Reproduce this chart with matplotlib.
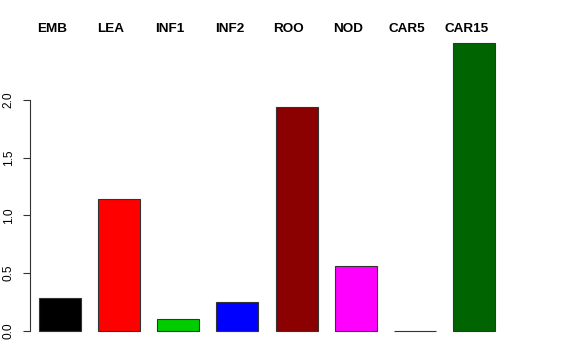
import matplotlib
matplotlib.use("Agg")
import matplotlib.pyplot as plt
import numpy as np

categories = ["EMB", "LEA", "INF1", "INF2", "ROO", "NOD", "CAR5", "CAR15"]
values = [0.286, 1.143, 0.104, 0.25, 1.94, 0.563, 0.003, 2.49]
colors = ["#000000", "#FF0000", "#00CD00", "#0000FF", "#8B0000", "#FF00FF", "#FFFFFF", "#006400"]
yticks = [0.0, 0.5, 1.0, 1.5, 2.0]
ytick_labels = ["0.0", "0.5", "1.0", "1.5", "2.0"]

plt.rcParams['font.family'] = ['Liberation Sans', 'DejaVu Sans']

W, H = 576, 360
fig = plt.figure(figsize=(W / 100, H / 100), dpi=100)
# axes in pixels: left 30, right 504, bottom y=331, top y=43
ax = fig.add_axes([30 / W, (H - 331) / H, (504 - 30) / W, (331 - 43) / H])

x = np.arange(len(categories))
ax.bar(x, values, width=0.71, color=colors, edgecolor="#333333", linewidth=0.8, clip_on=False)
ax.set_xlim(-0.5, 7.5)
ax.set_ylim(0, 2.49)

for s in ["top", "right", "bottom"]:
    ax.spines[s].set_visible(False)
ax.spines["left"].set_bounds(0, 2.0)
ax.spines["left"].set_color("#333333")
ax.set_xticks([])
ax.set_yticks(yticks)
ax.set_yticklabels(ytick_labels, rotation=90, va="center", fontsize=8.6)
ax.tick_params(axis="y", length=5, width=0.8, color="#333333", pad=6)

# category labels at top (slightly left of bar centers)
trans = matplotlib.transforms.blended_transform_factory(ax.transData, fig.transFigure)
for i, c in enumerate(categories):
    ax.text(x[i] - 0.135, 1 - 29 / H, c, transform=trans, ha="center", va="center",
            fontsize=9.7, fontweight="bold", clip_on=False)

fig.savefig("out.png", dpi=100)
